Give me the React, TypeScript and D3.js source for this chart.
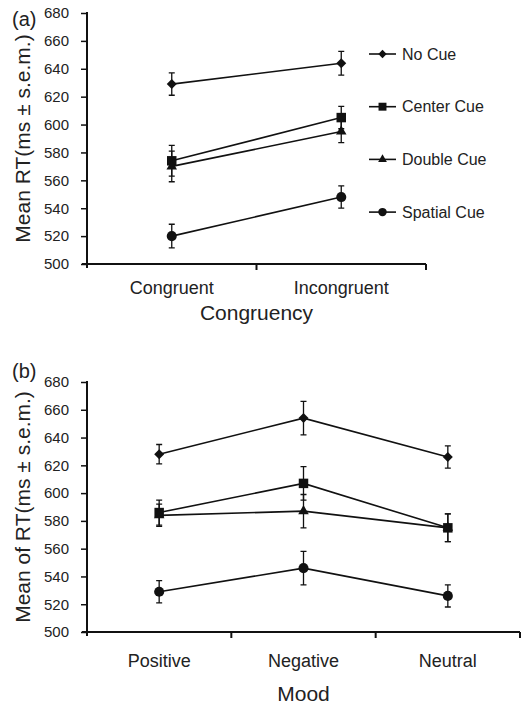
import React, { useEffect, useRef } from 'react';
import * as d3 from 'd3';

const congruency = ['Congruent', 'Incongruent'];
const moods = ['Positive', 'Negative', 'Neutral'];
const cues = ['No Cue', 'Center Cue', 'Double Cue', 'Spatial Cue'];
const yTicks = [500, 520, 540, 560, 580, 600, 620, 640, 660, 680];

// panel (a): mean RT by congruency
const noCueA = [629, 644];
const centerCueA = [574, 605];
const doubleCueA = [570, 595];
const spatialCueA = [520, 548];
const noCueAErr = [8, 8.5];
const centerCueAErr = [11, 8];
const doubleCueAErr = [11, 8];
const spatialCueAErr = [8.5, 8];

// panel (b): mean RT by mood
const noCueB = [628, 654, 626];
const centerCueB = [586, 607, 575];
const doubleCueB = [584, 587, 575];
const spatialCueB = [529, 546, 526];
const noCueBErr = [7, 12, 8];
const centerCueBErr = [9, 12, 10];
const doubleCueBErr = [8, 12, 10];
const spatialCueBErr = [8, 12, 8];

const FONT = '"Liberation Sans", Arial, sans-serif';
const INK = '#111';
const TEXT = '#222';

const symbols = [
  { type: d3.symbolSquare, size: 50, rotate: 45 }, // diamond
  { type: d3.symbolSquare, size: 90, rotate: 0 },
  { type: d3.symbolTriangle, size: 48, rotate: 0 },
  { type: d3.symbolCircle, size: 80, rotate: 0 },
];

function drawPanel(svg, opts) {
  const { cats, range, yRange, values, errors, label, yTitle, xTitle, xTitleY, catOffset } = opts;

  const x = d3.scaleBand().domain(cats).range(range);
  const y = d3.scaleLinear().domain([500, 680]).range(yRange);
  const g = svg.append('g');

  // y axis
  g.append('g')
    .attr('transform', `translate(${range[0]},0)`)
    .call(d3.axisLeft(y).tickValues(yTicks).tickSize(6).tickPadding(12).tickSizeOuter(0))
    .call(a => a.select('.domain').attr('stroke', INK).attr('stroke-width', 2)
      .attr('d', `M0,${yRange[1] - 1}V${yRange[0] + 4}`))
    .call(a => a.selectAll('.tick line').attr('stroke', INK).attr('stroke-width', 1.5))
    .call(a => a.selectAll('text').attr('font-family', FONT).attr('font-size', 15).attr('fill', TEXT));

  // x axis, ticks on band boundaries
  const xAxis = g.append('g')
    .attr('transform', `translate(0,${yRange[0]})`)
    .call(d3.axisBottom(x).tickSize(0).tickPadding(catOffset))
    .call(a => a.select('.domain').attr('stroke', INK).attr('stroke-width', 2)
      .attr('d', `M${range[0] - 5},0H${range[1]}`))
    .call(a => a.selectAll('text').attr('font-family', FONT).attr('font-size', 18).attr('fill', TEXT));
  xAxis.selectAll('.bound')
    .data(cats)
    .enter()
    .append('line')
    .attr('x1', d => x(d) + x.bandwidth())
    .attr('x2', d => x(d) + x.bandwidth())
    .attr('y1', 0)
    .attr('y2', 6)
    .attr('stroke', INK)
    .attr('stroke-width', 2);

  const line = d3.line()
    .x((d, i) => x(cats[i]) + x.bandwidth() / 2)
    .y(d => y(d));

  values.forEach((vals, s) => {
    const sg = g.append('g');
    sg.append('path')
      .datum(vals)
      .attr('fill', 'none')
      .attr('stroke', INK)
      .attr('stroke-width', 1.6)
      .attr('d', line);

    vals.forEach((v, i) => {
      const cx = x(cats[i]) + x.bandwidth() / 2;
      const e = errors[s][i];
      sg.append('path')
        .attr('d', `M${cx},${y(v + e)}V${y(v - e)}M${cx - 3},${y(v + e)}h6M${cx - 3},${y(v - e)}h6`)
        .attr('stroke', INK)
        .attr('stroke-width', 1.3)
        .attr('fill', 'none');
      sg.append('path')
        .attr('d', d3.symbol(symbols[s].type, symbols[s].size)())
        .attr('transform', `translate(${cx},${y(v)}) rotate(${symbols[s].rotate})`)
        .attr('fill', INK);
    });
  });

  // titles
  g.append('text')
    .attr('transform', `translate(23,${(yRange[0] + yRange[1]) / 2}) rotate(-90)`)
    .attr('dy', '0.35em')
    .attr('text-anchor', 'middle')
    .attr('font-family', FONT)
    .attr('font-size', 21)
    .attr('fill', TEXT)
    .text(yTitle);

  g.append('text')
    .attr('x', (range[0] + range[1]) / 2)
    .attr('y', xTitleY)
    .attr('text-anchor', 'middle')
    .attr('font-family', FONT)
    .attr('font-size', 21)
    .attr('fill', TEXT)
    .text(xTitle);

  g.append('text')
    .attr('x', 12)
    .attr('y', label.y)
    .attr('font-family', FONT)
    .attr('font-size', 20)
    .attr('fill', TEXT)
    .text(label.text);
}

const App = () => {
  const svgRef = useRef(null);

  useEffect(() => {
    const svg = d3.select(svgRef.current);
    svg.selectAll('*').remove();

    drawPanel(svg, {
      cats: congruency,
      range: [87, 426],
      yRange: [264, 13],
      values: [noCueA, centerCueA, doubleCueA, spatialCueA],
      errors: [noCueAErr, centerCueAErr, doubleCueAErr, spatialCueAErr],
      label: { text: '(a)', y: 26 },
      yTitle: 'Mean RT(ms ± s.e.m.)',
      xTitle: 'Congruency',
      xTitleY: 320,
      catOffset: 17,
    });

    drawPanel(svg, {
      cats: moods,
      range: [87, 520],
      yRange: [632, 382],
      values: [noCueB, centerCueB, doubleCueB, spatialCueB],
      errors: [noCueBErr, centerCueBErr, doubleCueBErr, spatialCueBErr],
      label: { text: '(b)', y: 378 },
      yTitle: 'Mean of RT(ms ± s.e.m.)',
      xTitle: 'Mood',
      xTitleY: 701,
      catOffset: 22,
    });

    // legend for panel (a)
    const legend = svg.append('g').attr('transform', 'translate(369,54)');
    const row = legend.selectAll('g')
      .data(cues)
      .enter()
      .append('g')
      .attr('transform', (d, i) => `translate(0,${i * 52.7})`);
    row.append('line')
      .attr('x1', 0)
      .attr('x2', 27)
      .attr('stroke', INK)
      .attr('stroke-width', 1.6);
    row.append('path')
      .attr('d', (d, i) => d3.symbol(symbols[i].type, symbols[i].size * 0.7)())
      .attr('transform', (d, i) => `translate(13.5,0) rotate(${symbols[i].rotate})`)
      .attr('fill', INK);
    row.append('text')
      .attr('x', 33)
      .attr('dy', '0.35em')
      .attr('font-family', FONT)
      .attr('font-size', 16)
      .attr('fill', TEXT)
      .text(d => d);
  }, []);

  return (
    <svg
      ref={svgRef}
      width={521}
      height={707}
      style={{ position: 'absolute', left: 0, top: 0, background: '#fff' }}
    />
  );
};

export default App;
